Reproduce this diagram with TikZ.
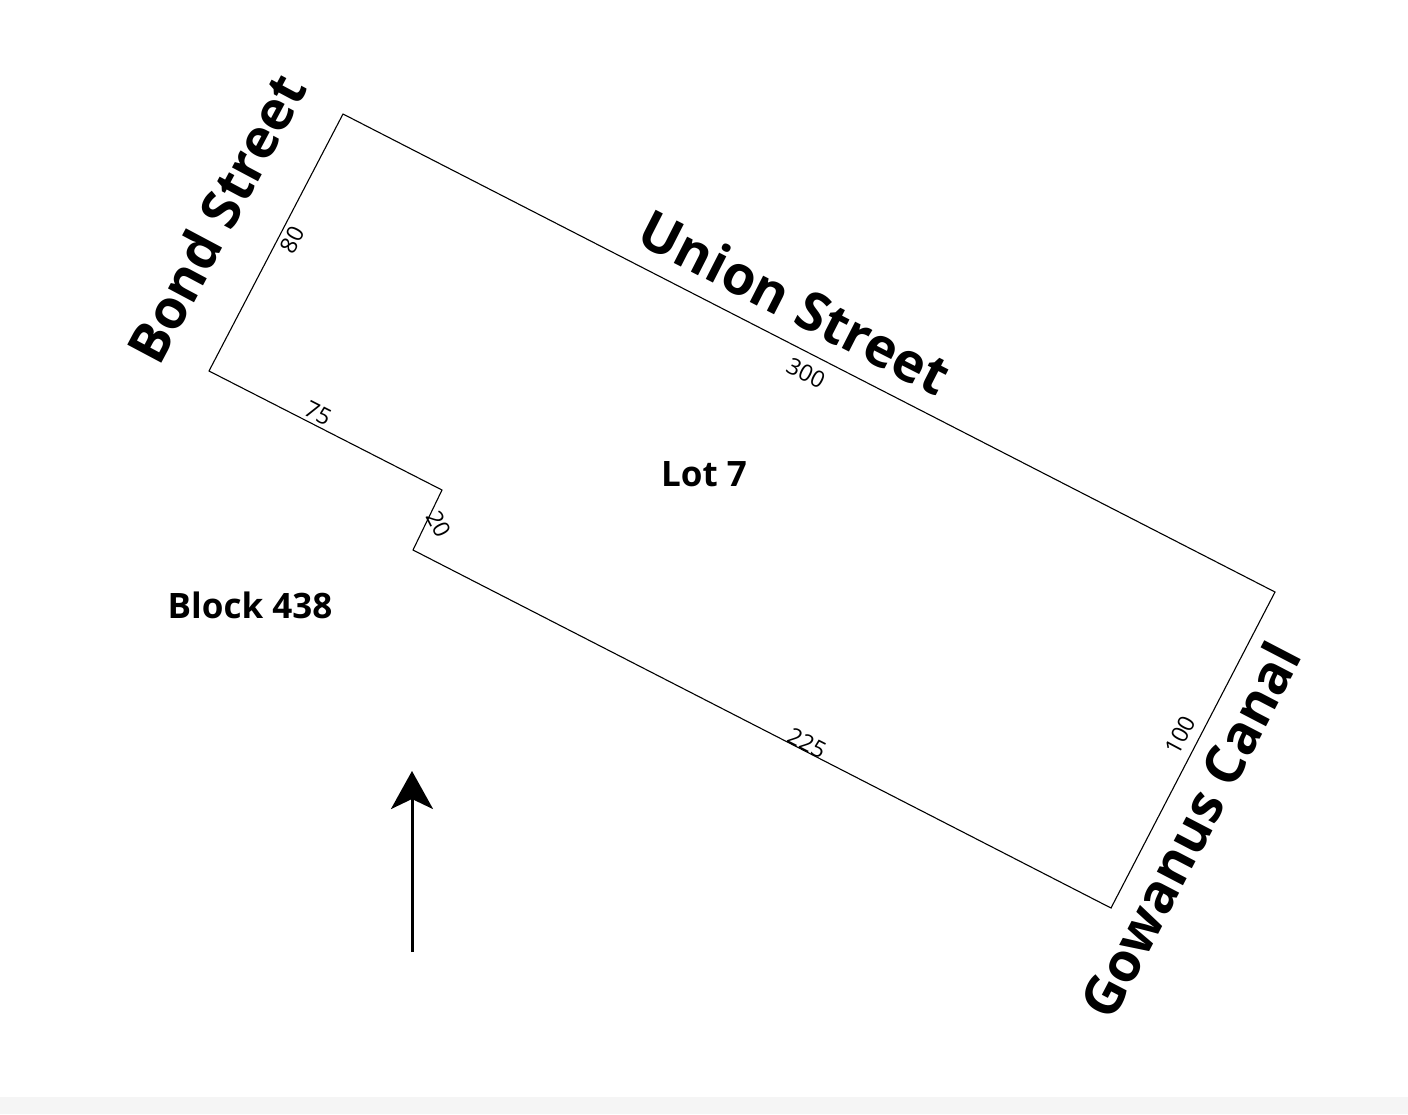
\documentclass[tikz,border=0pt]{standalone}
\usepackage{fontspec}
\setmainfont{Open Sans}
\usetikzlibrary{arrows.meta}
\tikzset{
  px/.style={x=0.5pt,y=-0.5pt},
  streetlabel/.style={font=\fontsize{27}{30}\selectfont\bfseries,inner sep=0pt},
  arealabel/.style={font=\fontsize{17.5}{20}\selectfont\bfseries,inner sep=0pt},
  dimlabel/.style={font=\fontsize{11.5}{13}\selectfont,inner sep=0pt},
  lotline/.style={draw=black,line width=0.55pt,line join=miter},
  northarrow/.style={draw=black,line width=1.5pt,-{Stealth[length=19pt,width=21pt,inset=5pt]}}
}
\begin{document}
\begin{tikzpicture}[px]
\useasboundingbox (0,0) rectangle (1408,1114);
\fill[white] (0,0) rectangle (1408,1114);
\fill[black!4] (0,1097) rectangle (1408,1114);
\coordinate (a) at (343,114);
\coordinate (b) at (1275,592);
\coordinate (c) at (1111,908);
\coordinate (d) at (413,550);
\coordinate (e) at (442,490);
\coordinate (f) at (209,371);
\draw[lotline] (a) -- (b) -- (c) -- (d) -- (e) -- (f) -- cycle;
\node[streetlabel,rotate=62] (bond) at (216,218) {Bond Street};
\node[streetlabel,rotate=-27] (union) at (795,302) {Union Street};
\node[streetlabel,rotate=62.5] (canal) at (1190,830) {Gowanus Canal};
\node[arealabel] (lot) at (704,474) {Lot 7};
\node[arealabel] (block) at (250,605) {Block 438};
\node[dimlabel,rotate=62] (d80) at (292,240) {80};
\node[dimlabel,rotate=-27] (d300) at (806,373) {300};
\node[dimlabel,rotate=-27] (d75) at (318,413) {75};
\node[dimlabel,rotate=-63] (d20) at (439,524) {20};
\node[dimlabel,rotate=-27] (d225) at (807,743) {225};
\node[dimlabel,rotate=62] (d100) at (1180,735) {100};
\coordinate (nt) at (412,952);
\coordinate (nh) at (412,771);
\draw[northarrow] (nt) -- (nh);
\end{tikzpicture}
\end{document}
